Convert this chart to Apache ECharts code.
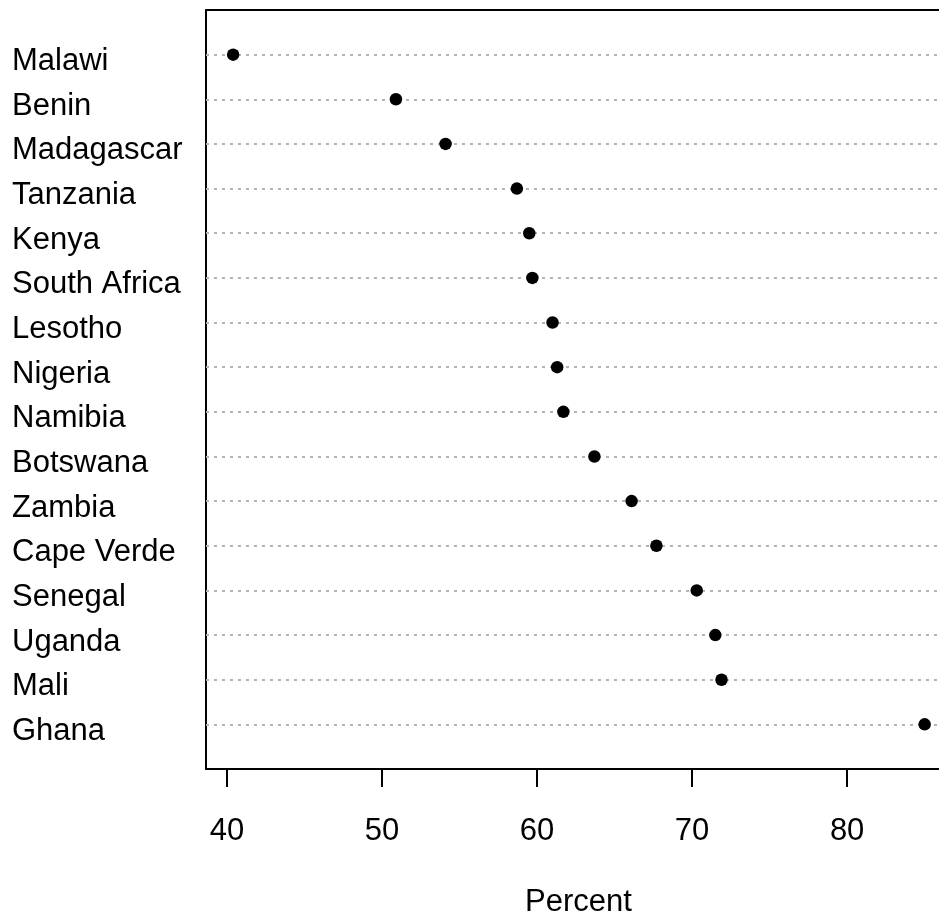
<!DOCTYPE html>
<html>
<head>
<meta charset="utf-8">
<script src="https://cdn.jsdelivr.net/npm/echarts@6/dist/echarts.min.js"></script>
<style>
html,body{margin:0;padding:0;background:#fff;}
#chart{width:939px;height:915px;}
</style>
</head>
<body>
<div id="chart"></div>
<script>
const countries = ['Malawi','Benin','Madagascar','Tanzania','Kenya','South Africa','Lesotho','Nigeria','Namibia','Botswana','Zambia','Cape Verde','Senegal','Uganda','Mali','Ghana'];
const percent = [40.4, 50.9, 54.1, 58.7, 59.5, 59.7, 61.0, 61.3, 61.7, 63.7, 66.1, 67.7, 70.3, 71.5, 71.9, 85.0];
const xTicks = [40, 50, 60, 70, 80];
const xTitle = 'Percent';

const n = countries.length;
const rowPos = countries.map((c, i) => n - i);
const font = 'Liberation Sans, Arial, Helvetica, sans-serif';
const xMin = 38.65, xMax = 86.7;

const chart = echarts.init(document.getElementById('chart'), null, {renderer: 'canvas'});
chart.setOption({
  animation: false,
  backgroundColor: '#ffffff',
  grid: {
    left: 206, top: 10, width: 745, height: 759,
    outerBoundsMode: 'none', containLabel: false,
    show: false
  },
  xAxis: [{
    type: 'value',
    min: xMin, max: xMax,
    name: xTitle,
    nameLocation: 'middle',
    nameGap: 118,
    nameTextStyle: {fontSize: 31, color: '#000', fontFamily: font},
    axisLine: {show: true, lineStyle: {color: '#000', width: 2}},
    axisTick: {show: true, length: 18, lineStyle: {color: '#000', width: 2}, customValues: xTicks},
    axisLabel: {show: true, fontSize: 31, color: '#000', fontFamily: font, margin: 47, customValues: xTicks},
    splitLine: {show: false}
  }, {
    type: 'value',
    position: 'top',
    min: xMin, max: xMax,
    axisLine: {show: true, lineStyle: {color: '#000', width: 2}},
    axisTick: {show: false},
    axisLabel: {show: false},
    splitLine: {show: false}
  }],
  yAxis: {
    type: 'value',
    min: 0, max: n + 1, interval: 1,
    axisLine: {show: true, lineStyle: {color: '#000', width: 2}},
    axisTick: {show: false},
    axisLabel: {
      show: true, fontSize: 31, color: '#000', fontFamily: font,
      align: 'left', margin: 194,
      customValues: rowPos,
      formatter: function (v) { const i = n - v; return countries[i] !== undefined ? '{a|' + countries[i] + '}' : ''; },
      rich: {a: {fontSize: 31, color: '#000', fontFamily: font, padding: [14, 0, 0, 0]}}
    },
    splitLine: {show: false}
  },
  series: [{
    type: 'scatter',
    symbol: 'circle',
    symbolSize: 12.5,
    itemStyle: {color: '#000', opacity: 1},
    data: countries.map((c, i) => [percent[i], rowPos[i]]),
    z: 5,
    markLine: {
      silent: true,
      symbol: ['none', 'none'],
      label: {show: false},
      lineStyle: {color: '#b4b4b4', type: [3, 5], width: 2, opacity: 1},
      data: rowPos.map(p => ({yAxis: p})),
      z: 1
    }
  }]
});
</script>
</body>
</html>
